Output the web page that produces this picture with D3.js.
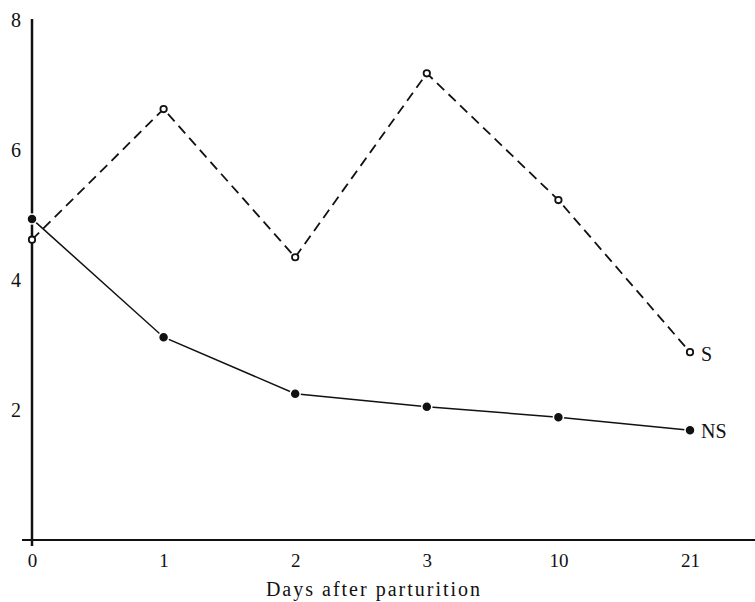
<!DOCTYPE html>
<html>
<head>
<meta charset="utf-8">
<script src="https://cdn.jsdelivr.net/npm/d3@7"></script>
<style>
  body { margin: 0; background: #fff; }
  svg text { font-family: "Liberation Serif", "DejaVu Serif", serif; fill: #111; }
</style>
</head>
<body>
<div id="container"></div>
<script>
// days after parturition (categorical, evenly spaced)
const days = ["0", "1", "2", "3", "10", "21"];
const seriesS  = [4.62, 6.63, 4.35, 7.18, 5.23, 2.89];
const seriesNS = [4.94, 3.12, 2.25, 2.05, 1.89, 1.69];
const yTicks = [2, 4, 6, 8];
const xTitle = "Days after parturition";

(function(){
    const width = 755, height = 602;
    const margin = {top: 20, right: 65, bottom: 62, left: 32};

    const svg = d3.select("#container").append("svg")
        .attr("width", width)
        .attr("height", height);

    const x = d3.scalePoint()
        .domain(days)
        .range([margin.left, width - margin.right]);
    const y = d3.scaleLinear()
        .domain([0, 8])
        .range([height - margin.bottom, margin.top]);

    // axes
    const yAxis = svg.append("g")
        .attr("transform", `translate(${margin.left},0)`)
        .call(d3.axisLeft(y).tickValues(yTicks).tickSize(0).tickPadding(11).tickFormat(d3.format("d")));
    yAxis.select(".domain").remove();
    yAxis.attr("font-size", null).attr("font-family", null);
    yAxis.selectAll("text").style("font-size", "20px");

    svg.append("line")
        .attr("x1", margin.left).attr("x2", margin.left)
        .attr("y1", y(8) - 1).attr("y2", y(0) + 6)
        .attr("stroke", "#111").attr("stroke-width", 2.5);

    const xAxis = svg.append("g")
        .attr("transform", `translate(0,${y(0)})`)
        .call(d3.axisBottom(x).tickSize(0).tickPadding(14));
    xAxis.select(".domain").remove();
    xAxis.attr("font-size", null).attr("font-family", null);
    xAxis.selectAll("text").style("font-size", "19px");

    svg.append("line")
        .attr("x1", margin.left - 10).attr("x2", width)
        .attr("y1", y(0)).attr("y2", y(0))
        .attr("stroke", "#111").attr("stroke-width", 2);

    svg.append("text")
        .attr("x", 374)
        .attr("y", height - 6)
        .attr("text-anchor", "middle")
        .style("font-size", "20px")
        .style("letter-spacing", "2px")
        .text(xTitle);

    const line = d3.line()
        .x((d, i) => x(days[i]))
        .y(d => y(d));

    // S: dashed with open circles
    svg.append("path")
        .datum(seriesS)
        .attr("d", line)
        .attr("fill", "none")
        .attr("stroke", "#111")
        .attr("stroke-width", 1.8)
        .attr("stroke-dasharray", "10,6");

    // NS: solid with filled dots
    svg.append("path")
        .datum(seriesNS)
        .attr("d", line)
        .attr("fill", "none")
        .attr("stroke", "#111")
        .attr("stroke-width", 1.5);

    svg.append("g").selectAll("circle")
        .data(seriesS)
        .join("circle")
        .attr("cx", (d, i) => x(days[i]))
        .attr("cy", d => y(d))
        .attr("r", 3.2)
        .attr("fill", "#fff")
        .attr("stroke", "#111")
        .attr("stroke-width", 1.8);

    svg.append("g").selectAll("circle")
        .data(seriesNS)
        .join("circle")
        .attr("cx", (d, i) => x(days[i]))
        .attr("cy", d => y(d))
        .attr("r", 5)
        .attr("fill", "#111")
        .attr("stroke", "#fff")
        .attr("stroke-width", 1.5);

    // series labels
    const last = days.length - 1;
    svg.append("text")
        .attr("x", x(days[last]) + 11)
        .attr("y", y(seriesS[last]))
        .attr("dy", "0.45em")
        .style("font-size", "20px")
        .text("S");
    svg.append("text")
        .attr("x", x(days[last]) + 11)
        .attr("y", y(seriesNS[last]))
        .attr("dy", "0.4em")
        .style("font-size", "20px")
        .text("NS");
})();
</script>
</body>
</html>
